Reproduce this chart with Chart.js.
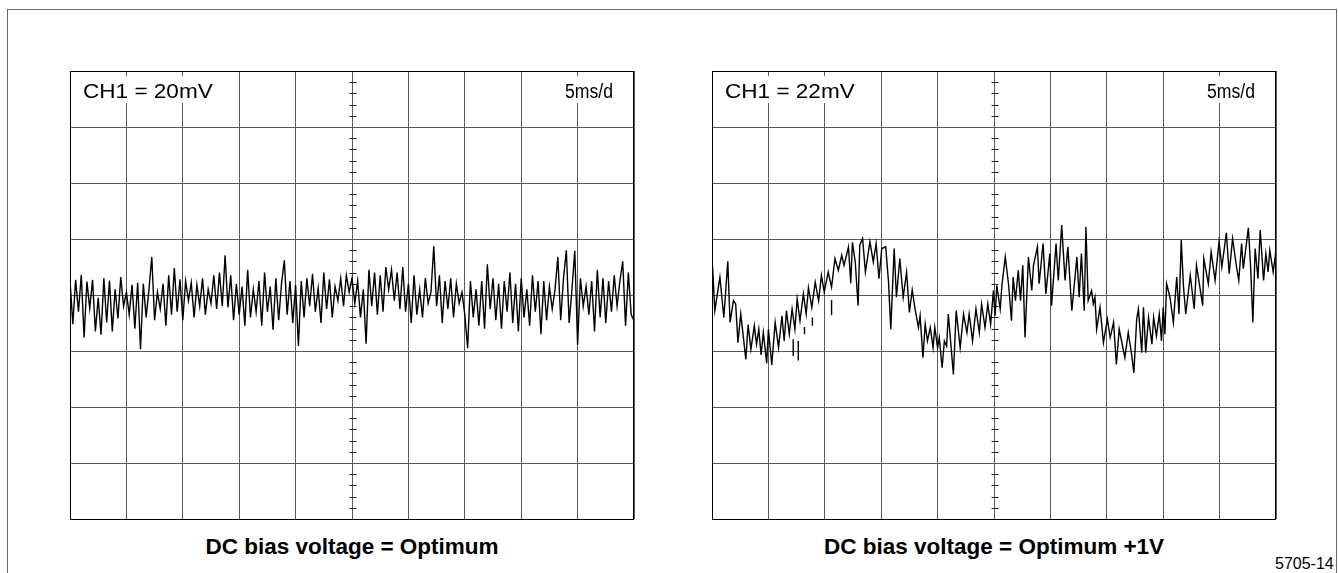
<!DOCTYPE html>
<html>
<head>
<meta charset="utf-8">
<title>DC bias voltage noise</title>
<script src="https://cdn.jsdelivr.net/npm/chart.js@4/dist/chart.umd.min.js"></script>
<style>
  html, body { margin: 0; padding: 0; background: #fff; }
  body { width: 1338px; height: 573px; position: relative; overflow: hidden;
         font-family: "Liberation Sans", Arial, sans-serif; color: #000; }
  .frame { position: absolute; left: 7px; top: 9px; width: 1328px; height: 620px; border: 1px solid #666; }
  .scope { position: absolute; top: 70px; }
  .caption { position: absolute; top: 535px; width: 564px; text-align: center;
             font-weight: bold; font-size: 22.5px; line-height: 24px; }
  .fig { position: absolute; left: 1275px; top: 555px; font-size: 16px; line-height: 18px; }
</style>
</head>
<body>
<div class="frame"></div>
<canvas id="left" class="scope" width="566" height="450" style="left:69px"></canvas>
<canvas id="right" class="scope" width="566" height="450" style="left:711px"></canvas>
<div class="caption" style="left:70px">DC bias voltage = Optimum</div>
<div class="caption" style="left:712px">DC bias voltage = Optimum +1V</div>
<div class="fig">5705-14</div>
<script>
// screen: 10 x 8 divisions, 5 ms per division
const TIME_LABEL = "5ms/d";
const LEFT_LABEL = "CH1 = 20mV";
const RIGHT_LABEL = "CH1 = 22mV";

// left trace, one sample every 0.05 div (divisions from centre line)
const LEFT_STEP = 0.05;
const leftTrace = [
  0.26,-0.52,0.27,-0.30,0.36,-0.76,0.24,-0.24,0.27,-0.65,
  -0.05,-0.71,0.30,-0.49,0.26,-0.65,0.10,-0.42,0.32,-0.20,
  0.05,-0.35,0.18,-0.60,0.22,-0.97,0.20,-0.40,0.10,0.68,
  -0.45,0.05,-0.25,0.20,-0.55,0.35,-0.35,0.48,-0.30,0.28,
  -0.45,0.25,-0.10,0.22,-0.40,0.18,-0.20,0.30,-0.35,0.10,
  -0.15,0.35,-0.25,0.40,-0.20,0.71,-0.22,0.35,-0.45,0.20,
  -0.35,0.15,-0.55,0.45,-0.40,0.10,-0.30,0.25,-0.55,0.40,
  -0.30,0.15,-0.62,0.30,-0.45,0.20,0.62,-0.35,0.25,-0.50,
  0.18,-0.91,0.25,-0.40,0.30,-0.20,0.38,-0.30,0.12,-0.50,
  0.40,-0.25,0.28,-0.40,0.15,-0.10,0.30,-0.20,0.35,0.05,
  0.30,-0.15,0.25,-0.40,0.10,-0.87,0.45,-0.20,0.40,-0.35,
  0.35,-0.30,0.50,0.10,0.45,-0.10,0.40,-0.25,0.50,-0.30,
  0.20,-0.50,0.35,-0.35,0.10,-0.40,0.30,-0.15,0.05,0.87,
  -0.20,0.35,-0.50,0.25,-0.25,0.30,-0.40,0.20,-0.15,0.05,
  -0.35,-0.95,0.25,-0.40,0.10,-0.55,0.25,-0.60,0.55,-0.25,
  0.30,-0.45,0.20,-0.60,0.25,-0.30,0.40,-0.50,0.20,-0.65,
  0.30,-0.40,0.10,-0.55,0.35,-0.30,0.25,-0.70,0.25,-0.45,
  0.15,-0.25,0.10,0.68,-0.45,0.30,0.80,-0.50,0.10,0.79,
  -0.89,0.30,-0.20,0.15,-0.35,0.25,-0.65,0.45,-0.40,0.30,
  -0.50,0.25,-0.30,0.35,-0.20,0.25,0.60,-0.55,0.40,-0.35,
  -0.46
];

// right trace: time (div) and level (div)
const rightTime = [
  0.01,0.05,0.14,0.21,0.28,0.32,0.38,0.42,0.46,0.51,
  0.60,0.64,0.69,0.75,0.79,0.83,0.87,0.91,0.97,1.00,
  1.06,1.12,1.18,1.24,1.28,1.32,1.37,1.42,1.47,1.51,
  1.56,1.62,1.67,1.71,1.77,1.83,1.89,1.94,1.99,2.06,
  2.12,2.18,2.24,2.30,2.34,2.42,2.46,2.49,2.54,2.59,
  2.62,2.67,2.72,2.80,2.86,2.91,2.96,3.01,3.08,3.13,
  3.17,3.23,3.27,3.33,3.39,3.45,3.50,3.55,3.60,3.66,
  3.69,3.74,3.78,3.82,3.87,3.92,3.95,4.00,4.03,4.08,
  4.12,4.16,4.19,4.25,4.28,4.33,4.40,4.46,4.52,4.56,
  4.62,4.68,4.74,4.78,4.84,4.89,4.94,4.99,5.02,5.05,
  5.11,5.14,5.20,5.26,5.31,5.34,5.38,5.43,5.47,5.51,
  5.55,5.61,5.67,5.70,5.77,5.80,5.87,5.92,5.99,6.02,
  6.10,6.14,6.20,6.26,6.31,6.38,6.47,6.51,6.55,6.60,
  6.63,6.67,6.73,6.76,6.79,6.82,6.88,6.94,7.01,7.06,
  7.12,7.17,7.22,7.32,7.38,7.44,7.48,7.53,7.56,7.62,
  7.65,7.69,7.74,7.80,7.83,7.88,7.93,7.97,8.00,8.03,
  8.06,8.12,8.18,8.24,8.28,8.32,8.36,8.40,8.48,8.55,
  8.59,8.65,8.70,8.72,8.80,8.85,8.92,8.99,9.04,9.12,
  9.17,9.23,9.30,9.34,9.39,9.42,9.51,9.55,9.59,9.63,
  9.68,9.72,9.78,9.82,9.86,9.89,9.95,10.00
];
const rightTrace = [
  0.50,-0.28,0.32,-0.40,0.60,-0.49,-0.10,-0.16,-0.85,-0.34,
  -1.15,-0.53,-0.97,-0.55,-0.88,-0.61,-1.07,-0.67,-1.22,-0.61,
  -1.25,-0.49,-0.94,-0.37,-0.82,-0.28,-0.70,-0.25,-0.61,-0.07,
  -0.46,0.02,-0.34,0.13,-0.22,0.23,-0.10,0.35,0.05,0.41,
  0.14,0.65,0.44,0.71,0.53,0.86,0.21,0.94,0.59,-0.19,
  0.89,1.01,0.41,0.95,0.59,0.92,0.29,0.83,0.86,0.23,
  -0.61,0.83,-0.04,0.65,-0.04,0.41,-0.31,0.09,-0.25,-0.58,
  -0.37,-1.12,-0.52,-0.82,-0.58,-0.94,-0.58,-0.94,-0.76,-1.30,
  -0.82,-0.91,-0.34,-1.06,-1.42,-0.28,-0.94,-0.34,-0.67,-0.34,
  -0.82,-0.25,-0.67,-0.16,-0.58,-0.16,-0.52,0.08,-0.37,0.17,
  -0.25,0.17,0.68,0.17,-0.46,0.32,-0.10,0.44,-0.10,0.53,
  -0.76,0.68,0.08,0.53,0.86,0.20,0.92,0.02,0.74,-0.19,
  0.92,0.26,1.25,0.26,0.86,-0.28,0.68,-0.04,0.74,-0.28,
  1.22,-0.10,0.08,-0.16,-0.04,-0.61,-0.22,-0.85,-0.43,-0.76,
  -0.49,-1.24,-0.61,-1.12,-0.67,-1.06,-1.39,-0.43,-0.25,-1.03,
  -0.22,-1.03,-0.40,-0.88,-0.40,-0.73,-0.34,-0.82,-0.22,-0.70,
  0.20,-0.04,-0.49,0.32,-0.34,0.98,0.14,-0.34,0.35,-0.25,
  0.53,0.14,-0.19,0.65,0.20,0.77,0.26,0.95,0.50,1.11,
  0.38,1.01,0.50,0.26,0.92,0.47,1.20,0.50,-0.49,0.83,
  0.29,1.16,0.26,0.74,0.41,0.80,0.41,0.80
];

// short stray strokes on the right screen
const glitchTime = [1.44, 1.53, 1.64, 1.78, 2.12];
const glitchTop = [-0.79, -0.82, -0.57, -0.40, -0.09];
const glitchBottom = [-1.09, -1.17, -0.70, -0.55, -0.36];

const GRID = "#5a5a5a";
const FONT = '"Liberation Sans", Arial, sans-serif';

function patchText(ctx, text, x, base, size, sx) {
  ctx.font = size + "px " + FONT;
  const w = ctx.measureText(text).width * sx;
  ctx.fillStyle = "#fff";
  ctx.fillRect(x - 2, base - 22, w + 4, 27);
  ctx.save();
  ctx.translate(x, base);
  ctx.scale(sx, 1);
  ctx.fillStyle = "#000";
  ctx.fillText(text, 0, 0);
  ctx.restore();
  return w;
}

const scopePlugin = {
  id: "scope",
  beforeDatasetsDraw(chart, args, opts) {
    const { ctx, chartArea: a, scales: { x, y } } = chart;
    ctx.save();

    // minor ticks on the vertical centre line
    const cx = Math.round(x.getPixelForValue(5)) + 0.5;
    ctx.strokeStyle = "#222";
    ctx.lineWidth = 1;
    ctx.beginPath();
    for (let i = -20; i <= 20; i++) {
      if (i % 5 === 0) continue;
      const py = Math.round(y.getPixelForValue(i / 5)) + 0.5;
      ctx.moveTo(cx - 3, py);
      ctx.lineTo(cx + 4, py);
    }
    ctx.stroke();

    // readouts on a white patch
    ctx.textBaseline = "alphabetic";
    const base = a.top + 27;
    patchText(ctx, opts.chLabel, a.left + 13, base, 20.5, 1.1);
    ctx.font = "20.5px " + FONT;
    const tw = ctx.measureText(opts.timeLabel).width * 0.86;
    patchText(ctx, opts.timeLabel, a.right - 21 - tw, base, 20.5, 0.86);
    ctx.restore();
  },
  afterDraw(chart) {
    const { ctx, chartArea: a } = chart;
    ctx.save();
    ctx.strokeStyle = "#000";
    ctx.lineWidth = 1;
    ctx.strokeRect(Math.round(a.left) + 0.5, Math.round(a.top) + 0.5,
                   Math.round(a.right - a.left) - 1, Math.round(a.bottom - a.top));
    ctx.restore();
  }
};

function scopeConfig(datasets, chLabel) {
  return {
    type: "line",
    data: { datasets },
    options: {
      responsive: false,
      animation: false,
      events: [],
      layout: { padding: 1 },
      plugins: {
        legend: { display: false },
        tooltip: { enabled: false },
        scope: { chLabel, timeLabel: TIME_LABEL }
      },
      scales: {
        x: {
          type: "linear", min: 0, max: 10,
          ticks: { display: false, stepSize: 1 },
          grid: { color: GRID, lineWidth: 1, drawTicks: false },
          border: { display: false }
        },
        y: {
          type: "linear", min: -4, max: 4,
          ticks: { display: false, stepSize: 1 },
          grid: { color: GRID, lineWidth: 1, drawTicks: false },
          border: { display: false }
        }
      },
      elements: {
        point: { radius: 0 },
        line: { borderWidth: 1.4, tension: 0, borderColor: "#000" }
      }
    },
    plugins: [scopePlugin]
  };
}

const leftPoints = leftTrace.map((v, i) => ({ x: i * LEFT_STEP, y: v }));
const rightPoints = rightTime.map((t, i) => ({ x: t, y: rightTrace[i] }));
const glitchPoints = [];
glitchTime.forEach((t, i) => {
  glitchPoints.push({ x: t, y: glitchTop[i] }, { x: t, y: glitchBottom[i] }, { x: t, y: null });
});

new Chart(document.getElementById("left"), scopeConfig([
  { data: leftPoints, borderColor: "#000", borderWidth: 1.4 }
], LEFT_LABEL));

new Chart(document.getElementById("right"), scopeConfig([
  { data: rightPoints, borderColor: "#000", borderWidth: 1.4 },
  { data: glitchPoints, borderColor: "#000", borderWidth: 1.4, spanGaps: false }
], RIGHT_LABEL));
</script>
</body>
</html>
